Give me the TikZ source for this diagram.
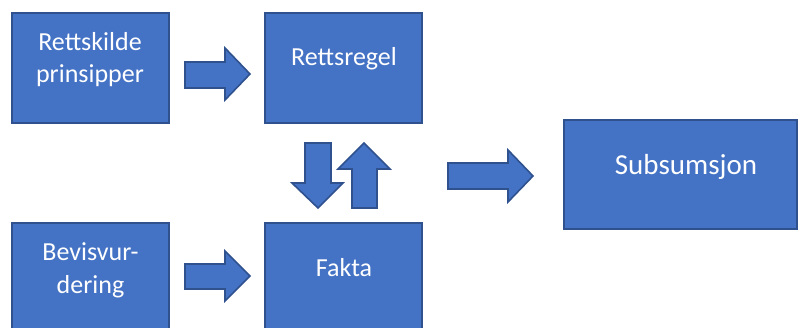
\documentclass[tikz,border=0pt]{standalone}
\usepackage{fontspec}
\setmainfont{Carlito}
\definecolor{boxfill}{HTML}{4472C4}
\definecolor{boxline}{HTML}{2F528F}
\tikzset{
  blk/.style={fill=boxfill, draw=boxline, line width=1.6pt},
  lbl/.style={text=white, font=\fontsize{26}{31}\selectfont, anchor=base, inner sep=0pt},
  biglbl/.style={text=white, font=\fontsize{29}{35}\selectfont, anchor=base, inner sep=0pt},
}
\begin{document}
\begin{tikzpicture}[x=1pt,y=-1pt]
\useasboundingbox (0,0) rectangle (799,327);
% boxes
\draw[blk] (12,13) rectangle (169,123);
\coordinate (b1) at (90,68);
\draw[blk] (265,13) rectangle (422,123);
\draw[blk] (12,223) rectangle (169,333);
\draw[blk] (265,223) rectangle (422,333);
\draw[blk] (564,120) rectangle (797,229);
% labels
\node[lbl] (r1) at (90,50) {Rettskilde};
\node[lbl] (r2) at (90,82) {prinsipper};
\node[lbl] (rr) at (344,65) {Rettsregel};
\node[lbl] (b1t) at (90.5,260) {Bevisvur-};
\node[lbl] (b2t) at (90.5,293) {dering};
\node[lbl] (fk) at (344,276) {Fakta};
\node[biglbl] (sb) at (686,174) {Subsumsjon};
% block arrows
\draw[blk] (185,62) -- (225,62) -- (225,48) -- (250,74) -- (225,100) -- (225,88) -- (185,88) -- cycle;
\draw[blk] (185,264) -- (225,264) -- (225,251) -- (250,276) -- (225,301) -- (225,289) -- (185,289) -- cycle;
\draw[blk] (448,163) -- (508,163) -- (508,150) -- (533,176) -- (508,202) -- (508,189) -- (448,189) -- cycle;
\draw[blk] (305,143) -- (331,143) -- (331,183) -- (343,183) -- (318,208) -- (292,183) -- (305,183) -- cycle;
\draw[blk] (352,208) -- (377,208) -- (377,169) -- (390,169) -- (364,143) -- (338,169) -- (352,169) -- cycle;
\end{tikzpicture}
\end{document}
